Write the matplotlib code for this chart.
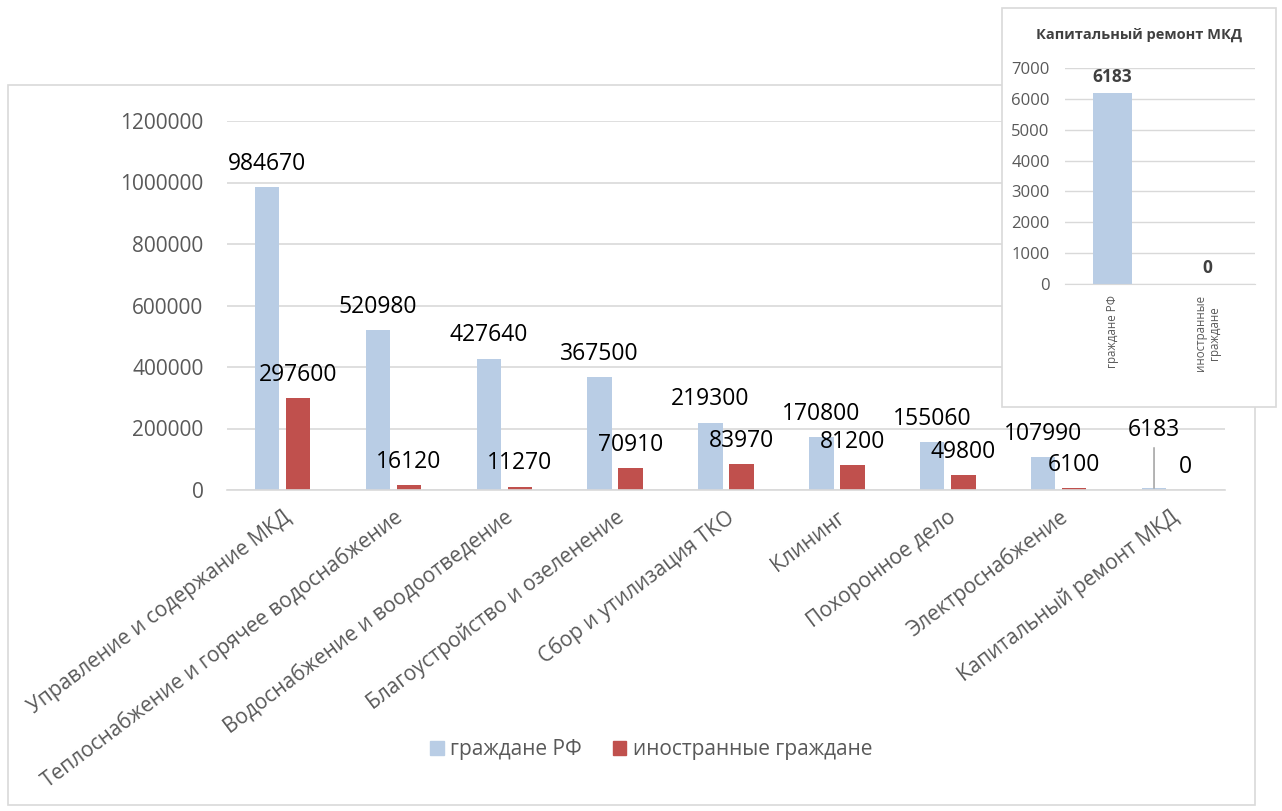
import numpy as np
import matplotlib.pyplot as plt
from matplotlib.patches import Rectangle, Patch

plt.rcParams['font.family'] = ['Open Sans', 'DejaVu Sans']

# data
categories = ['Управление и содержание МКД', 'Теплоснабжение и горячее водоснабжение',
              'Водоснабжение и воодоотведение', 'Благоустройство и озеленение',
              'Сбор и утилизация ТКО', 'Клининг', 'Похоронное дело',
              'Электроснабжение', 'Капитальный ремонт МКД']
citizens = [984670, 520980, 427640, 367500, 219300, 170800, 155060, 107990, 6183]
foreigners = [297600, 16120, 11270, 70910, 83970, 81200, 49800, 6100, 0]
y_ticks = [0, 200000, 400000, 600000, 800000, 1000000, 1200000]

inset_cats = ['граждане РФ', 'иностранные\nграждане']
inset_vals = [6183, 0]
inset_ticks = [0, 1000, 2000, 3000, 4000, 5000, 6000, 7000]

blue = '#B9CDE5'
red = '#C0504D'
grid_c = '#D9D9D9'
txt_c = '#595959'

W, H = 1282, 811
fig = plt.figure(figsize=(W / 100, H / 100), dpi=100)

# outer frame of main chart
fig.add_artist(Rectangle((8 / W, 1 - 805 / H), (1255 - 8) / W, (805 - 85) / H,
                         transform=fig.transFigure, fill=False, edgecolor=grid_c, lw=1.2))

ax = fig.add_axes([227 / W, 1 - 490 / H, (1225 - 227) / W, (490 - 121) / H])
x = np.arange(len(categories))
bw = 0.22
ax.bar(x - 0.14, citizens, bw, color=blue, zorder=2)
ax.bar(x + 0.14, foreigners, bw, color=red, zorder=2)

ax.set_xlim(-0.5, len(categories) - 0.5)
ax.set_ylim(0, 1200000)
ax.set_yticks(y_ticks)
ax.set_yticklabels([str(v) for v in y_ticks], fontsize=15, color=txt_c)
ax.yaxis.grid(True, color=grid_c, lw=1.2, zorder=0)
ax.set_axisbelow(True)
ax.tick_params(length=0)
ax.tick_params(axis='y', pad=17)
for s in ['top', 'right', 'left']:
    ax.spines[s].set_visible(False)
ax.spines['bottom'].set_color(grid_c)
ax.spines['bottom'].set_linewidth(1.2)

ax.set_xticks(x)
ax.set_xticklabels(categories, rotation=37, ha='right', rotation_mode='anchor',
                   fontsize=15, color=txt_c)
ax.tick_params(axis='x', pad=12)

for i, (xi, v) in enumerate(zip(x, citizens)):
    if i == len(categories) - 1:
        ax.annotate(str(v), (xi - 0.14, v), xytext=(0, 33), textcoords='offset points',
                    ha='center', va='bottom', fontsize=16.5, color='black',
                    arrowprops=dict(arrowstyle='-', color='#A6A6A6', lw=1.2,
                                    shrinkA=2, shrinkB=0))
    else:
        ax.annotate(str(v), (xi - 0.14, v), xytext=(0, 8), textcoords='offset points',
                    ha='center', va='bottom', fontsize=16.5, color='black')
for xi, v in zip(x, foreigners):
    ax.annotate(str(v), (xi + 0.14, v), xytext=(0, 8), textcoords='offset points',
                ha='center', va='bottom', fontsize=16.5, color='black')

handles = [Patch(color=blue, label='граждане РФ'), Patch(color=red, label='иностранные граждане')]
fig.legend(handles=handles, loc='center', bbox_to_anchor=(651 / W, 1 - 750 / H), ncol=2,
           frameon=False, fontsize=15, labelcolor=txt_c, handlelength=0.65, handleheight=0.65,
           handletextpad=0.3, columnspacing=1.5)

# inset chart
fig.add_artist(Rectangle((1002 / W, 1 - 407 / H), (1276 - 1002) / W, (407 - 8) / H,
                         transform=fig.transFigure, facecolor='white', edgecolor=grid_c,
                         lw=1.2, zorder=5))
ax2 = fig.add_axes([1065 / W, 1 - 284 / H, (1255 - 1065) / W, (284 - 68) / H], zorder=6)
ax2.patch.set_alpha(0)
xi2 = np.arange(len(inset_cats))
ax2.bar(xi2, inset_vals, 0.41, color=blue, zorder=2)
ax2.set_xlim(-0.5, 1.5)
ax2.set_ylim(0, 7000)
ax2.set_yticks(inset_ticks)
ax2.set_yticklabels([str(v) for v in inset_ticks], fontsize=12, color=txt_c)
ax2.yaxis.grid(True, color=grid_c, lw=1, zorder=0)
ax2.set_axisbelow(True)
ax2.tick_params(length=0)
ax2.tick_params(axis='y', pad=11)
for s in ['top', 'right', 'left']:
    ax2.spines[s].set_visible(False)
ax2.spines['bottom'].set_color(grid_c)
ax2.set_xticks(xi2)
ax2.set_xticklabels(inset_cats, rotation=90, fontsize=8.3, color=txt_c, va='top',
                    ha='center', linespacing=1.1)
ax2.tick_params(axis='x', pad=8)
for xv, v in zip(xi2, inset_vals):
    ax2.annotate(str(v), (xv, v), xytext=(0, 5), textcoords='offset points',
                 ha='center', va='bottom', fontsize=12.5, fontweight='bold', color='#404040')
fig.text(1139 / W, 1 - 35 / H, 'Капитальный ремонт МКД', fontsize=10.5, fontweight='bold',
         color='#404040', ha='center', va='center', zorder=7)

fig.savefig('out.png', dpi=100)
